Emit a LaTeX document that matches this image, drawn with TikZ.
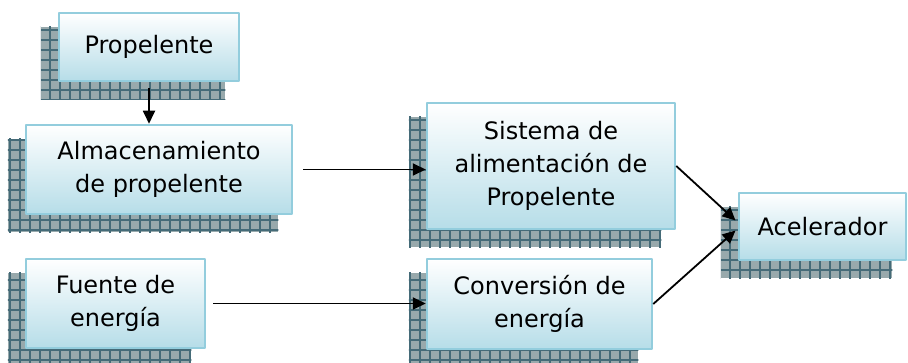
\documentclass[tikz,border=0pt]{standalone}
\usepackage{fontspec}
\setmainfont{DejaVu Sans}
\usetikzlibrary{arrows.meta,backgrounds}
\definecolor{boxedge}{HTML}{93CDDD}
\definecolor{boxbottom}{HTML}{B6DDE8}
\definecolor{shadowgray}{HTML}{98A9AC}
\definecolor{gridteal}{HTML}{456B78}
\begin{document}
\begin{tikzpicture}[x=1pt,y=-1pt,font=\fontsize{24}{33}\selectfont,line join=round,>={Triangle[length=13pt,width=12pt]},
  bloque/.style={draw=boxedge,line width=2.5pt,top color=white,bottom color=boxbottom,align=center,inner sep=0pt},
  flecha/.style={->,line width=1.8pt}]
\useasboundingbox (0,0) rectangle (908,363);
\node[bloque,minimum width=180pt,minimum height=68pt] (prop) at (149,47) {Propelente};
\node[bloque,minimum width=266pt,minimum height=89pt] (alm) at (159,169.5) {Almacenamiento\\de propelente};
\node[bloque,minimum width=248pt,minimum height=126pt] (sis) at (551,166) {Sistema de\\alimentación de\\Propelente};
\node[bloque,minimum width=167pt,minimum height=67pt] (acel) at (822.5,226.5) {Acelerador};
\node[bloque,minimum width=179pt,minimum height=89pt] (fuen) at (115.5,303.5) {Fuente de\\energía};
\node[bloque,minimum width=225pt,minimum height=90pt] (conv) at (539.5,304) {Conversión de\\energía};
% sombras cuadriculadas
\begin{scope}[on background layer]
\foreach \n in {prop,alm,sis,acel,fuen,conv}{
  \begin{scope}
  \clip ([shift={(-17pt,-17pt)}]\n.south west) rectangle ([shift={(-15pt,-15pt)}]\n.north east);
  \fill[shadowgray] ([shift={(-17pt,-17pt)}]\n.south west) rectangle ([shift={(-15pt,-15pt)}]\n.north east);
  \draw[gridteal,line width=1.3pt,step=10pt] ([shift={(-20pt,-20pt)}]\n.south west) grid ([shift={(-10pt,-10pt)}]\n.north east);
  \end{scope}
}
\end{scope}
% conectores
\draw[flecha,shorten <=6pt] (prop.south) -- (prop.south |- alm.north);
\draw[flecha,shorten <=10pt] (alm.east) -- (alm.east -| sis.west);
\draw[flecha,shorten <=7pt] (fuen.east) -- (fuen.east -| conv.west);
\draw[flecha,shorten >=3pt] (sis.east) -- ([yshift=4pt]acel.west);
\draw[flecha,shorten >=3pt] (conv.east) -- ([yshift=-2pt]acel.west);
\end{tikzpicture}
\end{document}
